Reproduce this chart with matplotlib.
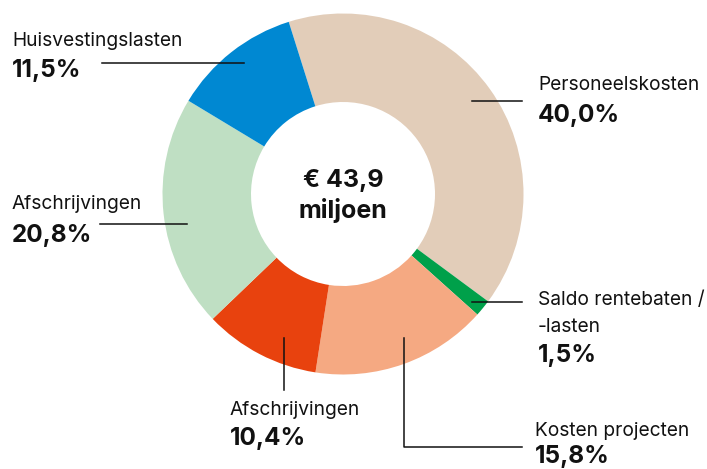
import matplotlib
matplotlib.use("Agg")
import matplotlib.pyplot as plt

# Data
categories = ["Personeelskosten", "Saldo rentebaten /\n-lasten", "Kosten projecten",
              "Afschrijvingen", "Afschrijvingen", "Huisvestingslasten"]
values = [40.0, 1.5, 15.8, 10.4, 20.8, 11.5]
pct_labels = ["40,0%", "1,5%", "15,8%", "10,4%", "20,8%", "11,5%"]
colors = ["#e2cdb9", "#00a04a", "#f5a982", "#e8420e", "#bfdfc3", "#0088d2"]
center_text = "€ 43,9\nmiljoen"

W, H = 707, 469
plt.rcParams['font.family'] = ['Inter', 'DejaVu Sans']
fig = plt.figure(figsize=(W / 100, H / 100), dpi=100)
ax = fig.add_axes([0, 0, 1, 1])

cx, cy = 343, H - 194
R, r = 180.5, 92
ax.pie(values, colors=colors, startangle=107.5, counterclock=False,
       center=(cx, cy), radius=R, wedgeprops=dict(width=R - r, linewidth=0))
ax.set_xlim(0, W)
ax.set_ylim(0, H)
ax.set_aspect('equal')
ax.axis('off')

ax.text(cx, H - 196, center_text, ha='center', va='center', fontsize=18,
        fontweight='bold', color='#111111', linespacing=1.3)

def Y(y):
    return H - y

lc = '#111111'
lw = 1.1
# leader lines
ax.plot([102, 244], [Y(62.5), Y(62.5)], color=lc, lw=lw)
ax.plot([472, 522], [Y(100.5), Y(100.5)], color=lc, lw=lw)
ax.plot([472, 522], [Y(301.5), Y(301.5)], color=lc, lw=lw)
ax.plot([403.5, 403.5, 522], [Y(338), Y(447), Y(447)], color=lc, lw=lw)
ax.plot([283.5, 283.5], [Y(338), Y(390)], color=lc, lw=lw)
ax.plot([100, 187], [Y(224), Y(224)], color=lc, lw=lw)

lab_fs = 13.8
pct_fs = 17.5
tc = '#111111'
# label positions (x, y of name line center, y of pct center)
label_pos = [
    (538, 85, 115, 0),     # Personeelskosten
    (538, 300, 355, 1),    # Saldo
    (535, 431, 456, 2),    # Kosten projecten
    (230, 410, 438, 3),    # Afschrijvingen 10,4
    (12, 204, 235, 4),     # Afschrijvingen 20,8
    (12, 41, 70, 5),       # Huisvestingslasten
]
for x, yn, yp, i in label_pos:
    name = categories[i]
    if "\n" in name:
        l1, l2 = name.split("\n")
        ax.text(x, Y(yn), l1, ha='left', va='center', fontsize=lab_fs, color=tc)
        ax.text(x, Y(yn + 27), l2, ha='left', va='center', fontsize=lab_fs, color=tc)
    else:
        ax.text(x, Y(yn), name, ha='left', va='center', fontsize=lab_fs, color=tc)
    ax.text(x, Y(yp), pct_labels[i], ha='left', va='center', fontsize=pct_fs,
            fontweight='bold', color=tc)

fig.savefig("out.png", dpi=100)
